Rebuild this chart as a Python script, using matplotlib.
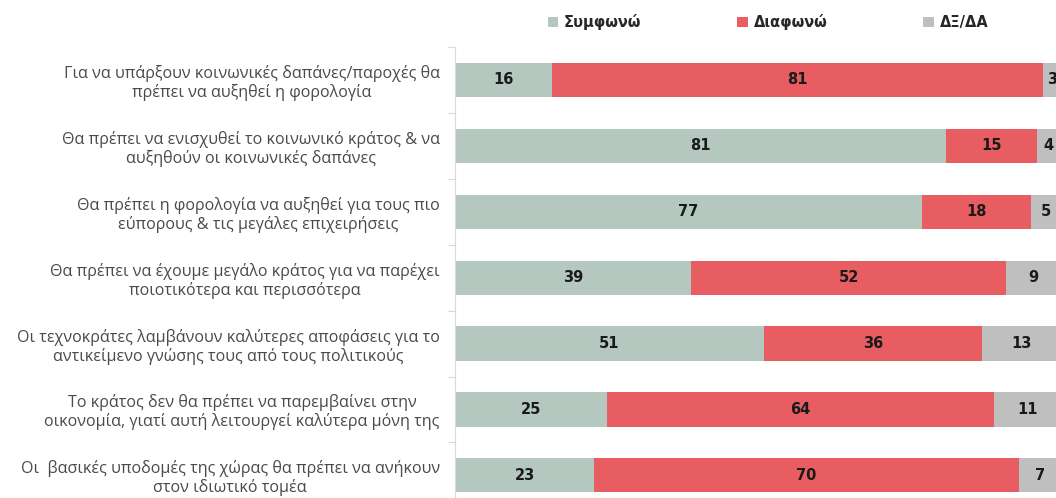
import matplotlib
matplotlib.use("Agg")
import matplotlib.pyplot as plt
from matplotlib.patches import Patch
import numpy as np

categories = [
    "Για να υπάρξουν κοινωνικές δαπάνες/παροχές θα\nπρέπει να αυξηθεί η φορολογία",
    "Θα πρέπει να ενισχυθεί το κοινωνικό κράτος & να\nαυξηθούν οι κοινωνικές δαπάνες",
    "Θα πρέπει η φορολογία να αυξηθεί για τους πιο\nεύπορους & τις μεγάλες επιχειρήσεις",
    "Θα πρέπει να έχουμε μεγάλο κράτος για να παρέχει\nποιοτικότερα και περισσότερα",
    "Οι τεχνοκράτες λαμβάνουν καλύτερες αποφάσεις για το\nαντικείμενο γνώσης τους από τους πολιτικούς",
    "Το κράτος δεν θα πρέπει να παρεμβαίνει στην\nοικονομία, γιατί αυτή λειτουργεί καλύτερα μόνη της",
    "Οι  βασικές υποδομές της χώρας θα πρέπει να ανήκουν\nστον ιδιωτικό τομέα",
]
agree = [16, 81, 77, 39, 51, 25, 23]
disagree = [81, 15, 18, 52, 36, 64, 70]
dkna = [3, 4, 5, 9, 13, 11, 7]
series_names = ["Συμφωνώ", "Διαφωνώ", "ΔΞ/ΔΑ"]
colors = ["#B4C8BF", "#E85D61", "#BFBFBF"]

plt.rcParams['font.family'] = ['Open Sans', 'DejaVu Sans']

W, H = 1056, 498
fig = plt.figure(figsize=(W / 100, H / 100), dpi=100)
x0, x100 = 455, 1061
ytop = 47
step = 65.9
ybot = ytop + step * len(categories)
ax = fig.add_axes([x0 / W, 1 - ybot / H, (x100 - x0) / W, (ybot - ytop) / H])

y = np.arange(len(categories))
data = [agree, disagree, dkna]
left = np.zeros(len(categories))
for vals, c, name in zip(data, colors, series_names):
    vals = np.array(vals, dtype=float)
    ax.barh(y, vals, left=left, height=0.52, color=c, label=name)
    for yi, l, v in zip(y, left, vals):
        ax.text(l + v / 2, yi, f"{int(v)}", ha="center", va="center",
                fontsize=10.5, fontweight="bold", family=["DejaVu Sans"],
                color="#1a1a1a")
    left += vals

ax.set_xlim(0, 100)
ax.set_ylim(len(categories) - 0.5, -0.5)
ax.set_yticks(y)
ax.set_yticklabels(categories, multialignment="center", fontsize=11.6,
                   color="#4a4a4a", linespacing=1.15)
ax.set_yticks(np.arange(-0.5, len(categories), 1), minor=True)
ax.tick_params(axis="y", which="major", length=0, pad=11)
ax.tick_params(axis="y", which="minor", length=5, color="#D9D9D9", width=0.8)
ax.set_xticks([])
for s in ["top", "right", "bottom"]:
    ax.spines[s].set_visible(False)
ax.spines["left"].set_color("#D9D9D9")
ax.spines["left"].set_linewidth(0.8)

handles = [Patch(facecolor=c, label=n) for c, n in zip(colors, series_names)]
fig.legend(handles=handles, loc="center", bbox_to_anchor=(768 / W, 1 - 22 / H),
           ncol=3, frameon=False, handlelength=0.7, handleheight=0.7,
           handletextpad=0.4, columnspacing=6.6,
           prop={"size": 10.5, "weight": "bold", "family": ["DejaVu Sans"]},
           labelcolor="#262626")

fig.savefig("out.png", dpi=100)
